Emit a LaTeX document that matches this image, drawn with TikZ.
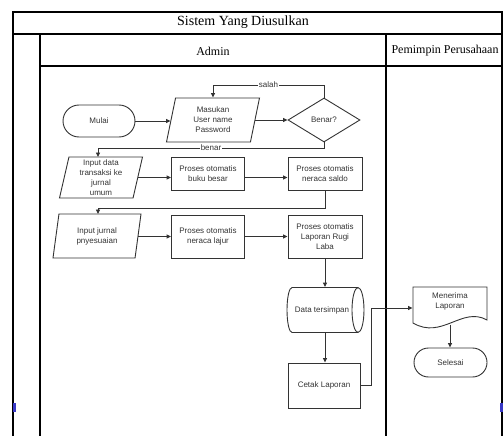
\documentclass[tikz,border=0pt]{standalone}
\usepackage{fontspec}
\setmainfont{Liberation Serif}
\newfontfamily\arialf{Liberation Sans}
\usetikzlibrary{shapes.geometric,arrows.meta}
\begin{document}
\begin{tikzpicture}[x=1pt,y=-1pt,
  frame/.style={line width=1.2pt, draw=black},
  box/.style={draw=black!80, line width=0.9pt, text=black!80,
    font=\arialf\fontsize{8}{10}\selectfont, align=center, inner sep=1pt},
  proc/.style={box, rectangle, minimum width=73pt},
  term/.style={box, rectangle, minimum width=72pt},
  io/.style={box, trapezium, trapezium stretches body,
    trapezium left angle=#1, trapezium right angle=180-#1},
  lbl/.style={fill=white, inner sep=0.5pt, text=black!80,
    font=\arialf\fontsize{8}{9}\selectfont},
  arr/.style={draw=black!80, line width=0.9pt, -{Triangle[length=4.5pt,width=4pt]}},
  ln/.style={draw=black!80, line width=0.9pt}
]
\useasboundingbox (0,0) rectangle (504,436);
% frame
\draw[frame] (13,436) -- (13,12) -- (502,12) -- (502,436);
\draw[frame] (13,34) -- (502,34);
\draw[frame] (40,34) -- (40,436);
\draw[frame] (40,66) -- (502,66);
\draw[frame] (386,34) -- (386,436);
\fill[blue!55!gray] (12.5,403) rectangle (15.5,412);
\fill[blue!55!gray] (500,403) rectangle (503,412);
\node[font=\fontsize{14}{16}\selectfont] (title) at (243,22) {Sistem Yang Diusulkan};
\node[font=\fontsize{12}{14}\selectfont] (admin) at (213,51) {Admin};
\node[font=\fontsize{12}{14}\selectfont] (pimp) at (445,51) {Pemimpin Perusahaan};

% nodes
\node[term, minimum height=32pt, rounded corners=16pt] (mulai) at (99,121) {Mulai};
\node[io=72, minimum width=93pt, minimum height=44pt] (masuk) at (213,120) {Masukan\\User name\\Password};
\node[box, diamond, minimum width=72pt, minimum height=44pt] (benar) at (324,120) {Benar?};
\node[io=76, minimum width=83pt, minimum height=41pt] (in1) at (101,177.5) {Input data\\transaksi ke\\jurnal\\umum};
\node[proc, minimum height=33pt] (bb) at (208,173.5) {Proses otomatis\\buku besar};
\node[proc, minimum width=74pt, minimum height=33pt] (ns) at (325,173.5) {Proses otomatis\\neraca saldo};
\node[io=73, minimum width=88pt, minimum height=44pt] (in2) at (97,236) {Input jurnal\\pnyesuaian};
\node[proc, minimum height=43pt] (nl) at (208,236.5) {Proses otomatis\\neraca lajur};
\node[proc, minimum width=74pt, minimum height=43pt] (lrl) at (325,236.5) {Proses otomatis\\Laporan Rugi\\Laba};
% data tersimpan (stored data)
\node[box, draw=none, rectangle, minimum width=77pt, minimum height=45pt] (data) at (326,310) {};
\node[box, draw=none] (datatext) at (322,310) {Data tersimpan};
\draw[ln] (292,287.5) -- (358,287.5) arc[start angle=90, end angle=-90, x radius=6pt, y radius=22.5pt]
  -- (292,332.5) arc[start angle=-90, end angle=-270, x radius=5pt, y radius=22.5pt] -- cycle;
\draw[ln] (358,287.5) arc[start angle=90, end angle=270, x radius=6pt, y radius=22.5pt];
\node[proc, minimum width=72pt, minimum height=45pt] (cetak) at (324,385.5) {Cetak Laporan};
% menerima laporan (document)
\node[box, draw=none, rectangle, minimum width=74pt, minimum height=43pt] (men) at (450,308) {};
\node[box, draw=none, anchor=north] (mentext) at (450,291) {Menerima\\Laporan};
\draw[ln] (413,287) -- (487,287) -- (487,320)
  .. controls (462,306) and (442,340) .. (413,323) -- cycle;
\coordinate (menb) at (450,324.5);
\node[term, minimum width=73pt, minimum height=29pt, rounded corners=14.5pt] (sel) at (450.5,362.5) {Selesai};

% connectors
\draw[arr] (mulai.east) -- (masuk.west |- mulai.east);
\draw[arr] (masuk.east |- benar.west) -- (benar.west);
\draw[arr] (benar.north) -- (benar.north |- 0,85) -| node[lbl, pos=0.25] (lsalah) {salah} (masuk.north);
\draw[arr] (benar.south) -- (benar.south |- 0,148) -| node[lbl, pos=0.25] (lbenar) {benar} (98,157);
\draw[arr] (in1.east) -- (bb.west |- in1.east);
\draw[arr] (bb.east |- in1.east) -- (ns.west |- in1.east);
\draw[arr] (ns.south) -- (ns.south |- 0,208) -| (98,214);
\draw[arr] (in2.east |- nl.west) -- (nl.west);
\draw[arr] (nl.east) -- (lrl.west);
\draw[arr] (lrl.south) -- (lrl.south |- data.north);
\draw[arr] (data.south -| lrl.south) -- (cetak.north -| lrl.south);
\draw[arr] (cetak.east) -- ++(11,0) |- (men.west);
\draw[arr] (menb) -- (sel.north -| menb);
\end{tikzpicture}
\end{document}
